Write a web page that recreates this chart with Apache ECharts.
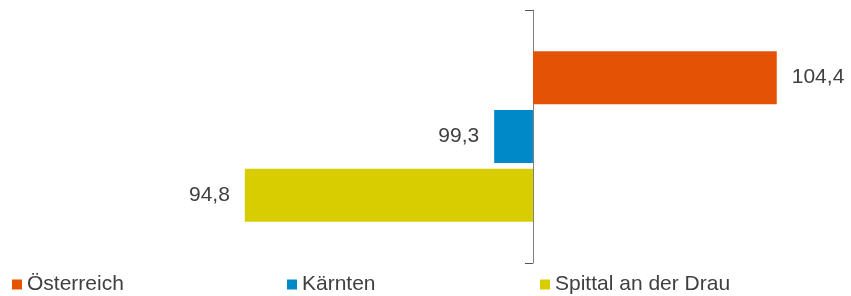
<!DOCTYPE html>
<html>
<head>
<meta charset="utf-8">
<script src="https://cdn.jsdelivr.net/npm/echarts@6/dist/echarts.min.js"></script>
<style>html,body{margin:0;padding:0;background:#fff;}#c{width:851px;height:296px;}</style>
</head>
<body>
<div id="c"></div>
<script>
var seriesNames = ['Österreich', 'Kärnten', 'Spittal an der Drau'];
var values = [104.4, 99.3, 94.8];
var baseline = 100;
var colors = ['#E35205', '#0089C9', '#D8CD00'];
var legendLeft = [12, 287, 540];

var chart = echarts.init(document.getElementById('c'), null, {renderer: 'canvas'});
var series = seriesNames.map(function (n, i) {
  var dev = +(values[i] - baseline).toFixed(2);
  return {
    name: n,
    type: 'bar',
    data: [dev],
    barWidth: 53,
    barGap: '11%',
    itemStyle: {color: colors[i]},
    label: {
      show: true,
      position: dev >= 0 ? 'right' : 'left',
      distance: 15,
      fontFamily: 'Liberation Sans, Arial, sans-serif',
      fontSize: 21,
      color: '#404040',
      formatter: function () { return values[i].toFixed(1).replace('.', ','); }
    }
  };
});
var legends = seriesNames.map(function (n, i) {
  return {
    data: [n],
    left: legendLeft[i],
    top: 274,
    icon: 'rect',
    itemWidth: 10,
    itemHeight: 10,
    itemGap: 5,
    textStyle: {fontFamily: 'Liberation Sans, Arial, sans-serif', fontSize: 21, lineHeight: 21, color: '#404040', padding: [0,0,0,0]},
    padding: 0,
    selectedMode: false
  };
});
chart.setOption({
  animation: false,
  grid: {left: 200.5, width: 609.5, top: 10, height: 253},
  xAxis: {type: 'value', min: -6, max: 5, show: false},
  yAxis: {
    type: 'category',
    data: [''],
    axisLine: {show: true, onZero: true, lineStyle: {color: '#7F7F7F', width: 1}},
    axisTick: {show: true, length: 8, lineStyle: {color: '#555555'}},
    axisLabel: {show: false}
  },
  legend: legends,
  series: series
});
</script>
</body>
</html>
